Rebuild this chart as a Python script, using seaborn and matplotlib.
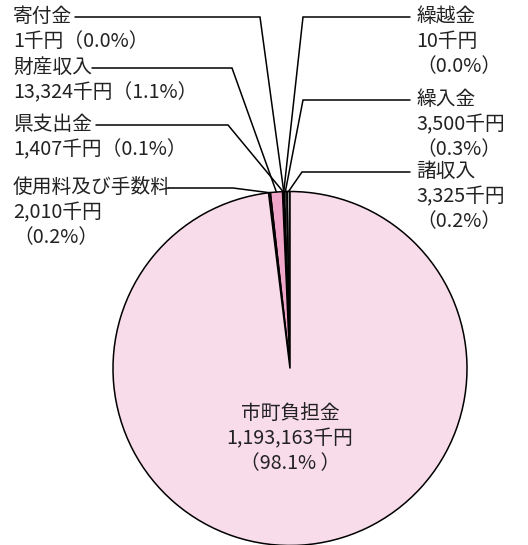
import numpy as np
import seaborn as sns
import matplotlib.pyplot as plt

# 歳入内訳 (千円)
items = ['諸収入', '繰入金', '繰越金', '寄付金', '県支出金', '財産収入', '使用料及び手数料', '市町負担金']
amounts = [3325, 3500, 10, 1, 1407, 13324, 2010, 1193163]
shares = ['0.2%', '0.3%', '0.0%', '0.0%', '0.1%', '1.1%', '0.2%', '98.1% ']
colors = ['#9a9a9a', '#3a3a3a', '#ffffff', '#ffffff', '#e4e4e4', '#efa6c9', '#d4006e', '#f9dcea']

sns.set_theme(style='white')
plt.rcParams['font.family'] = ['Noto Sans CJK JP', 'DejaVu Sans']

W, H = 528, 545
fig = plt.figure(figsize=(W / 100, H / 100), dpi=100)
ax = fig.add_axes([0, 0, 1, 1])

cx, cy, r = 290, H - 368.5, 177
wedges, _ = ax.pie(amounts, colors=colors, startangle=90, counterclock=True,
                   center=(cx, cy), radius=r, frame=True,
                   wedgeprops=dict(edgecolor='black', linewidth=1.1))
ax.set_xlim(0, W)
ax.set_ylim(0, H)
ax.set_aspect('equal')
ax.axis('off')

FS, LS = 14.2, 1.26

# label layout: text x, text top y (px), wrap share, line start x, elbow x, line y (px)
layout = {
    '諸収入':         (416, 161, True, 410, 302, 172),
    '繰入金':         (416, 89, True, 410, 303, 100),
    '繰越金':         (416, 6, True, 410, 303, 17),
    '寄付金':         (13, 6, False, 75, 260, 17),
    '県支出金':       (13, 114, False, 96, 228, 125),
    '財産収入':       (13, 57, False, 92, 232, 68),
    '使用料及び手数料': (13, 177, True, 168, 233, 188),
}

for w, name, amt, sh in zip(wedges, items, amounts, shares):
    if name not in layout:
        continue
    tx, ty, wrap, x0, xe, ly = layout[name]
    sep = '\n' if wrap else ''
    txt = f'{name}\n{amt:,}千円{sep}（{sh}）'
    ax.text(tx, H - ty, txt, ha='left', va='top', fontsize=FS,
            linespacing=LS, color='#222222')
    th = np.deg2rad((w.theta1 + w.theta2) / 2)
    px, py = cx + r * np.cos(th), cy + r * np.sin(th)
    ax.plot([x0, xe, px], [H - ly, H - ly, py], color='black', lw=1.1,
            solid_joinstyle='miter')

big = len(items) - 1
ax.text(cx, H - 403, f'{items[big]}\n{amounts[big]:,}千円\n（{shares[big]}）',
        ha='center', va='top', fontsize=FS, linespacing=LS, color='#222222')

fig.savefig('out.png', dpi=100)
